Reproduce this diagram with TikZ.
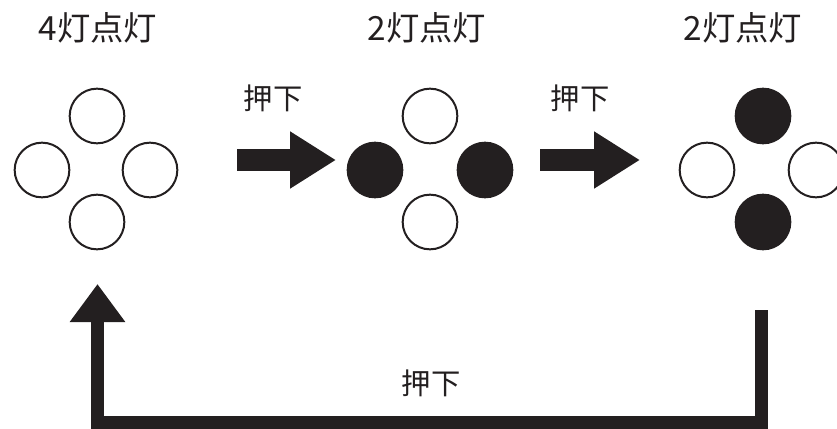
\documentclass[tikz,border=0pt]{standalone}
\usepackage{fontspec}
\newfontfamily\cjk{Noto Sans CJK JP}
\usetikzlibrary{arrows.meta}
\definecolor{inkblack}{HTML}{231F20}

\tikzset{
	lamp/.style={circle, draw=inkblack, line width=1.5pt, inner sep=0pt, minimum size=41pt},
	lampon/.style={lamp, fill=inkblack},
	lampoff/.style={lamp, fill=white},
	titletext/.style={text=inkblack, font=\cjk\fontsize{25}{30}\selectfont},
	presstext/.style={text=inkblack, font=\cjk\fontsize{22}{26}\selectfont},
	blockarrow/.style={draw=inkblack, line width=16.5pt, -{Triangle[length=34.5pt, width=40.5pt]}, inkblack},
	returnarrow/.style={draw=inkblack, line width=9.75pt, -{Triangle[length=28.5pt, width=39.75pt]}, inkblack}
}

\begin{document}
\begin{tikzpicture}[x=0.75pt,y=0.75pt,yscale=-1]
	\useasboundingbox (0,0) rectangle (837,428);

	% Titles
	\node [titletext] (title1) at (98,28) {4灯点灯};
	\node [titletext] (title2) at (427,28) {2灯点灯};
	\node [titletext] (title3) at (743,28) {2灯点灯};

	% Lamps: all four on
	\node [lampoff] (l1top) at (97,116) {};
	\node [lampoff] (l1left) at (42,170) {};
	\node [lampoff] (l1right) at (150,170) {};
	\node [lampoff] (l1bot) at (97,222) {};

	% Lamps: left and right
	\node [lampoff] (l2top) at (430,116) {};
	\node [lampon] (l2left) at (375,170) {};
	\node [lampon] (l2right) at (485,170) {};
	\node [lampoff] (l2bot) at (430,222) {};

	% Lamps: top and bottom
	\node [lampon] (l3top) at (763,116) {};
	\node [lampoff] (l3left) at (707,170) {};
	\node [lampoff] (l3right) at (816,170) {};
	\node [lampon] (l3bot) at (763,222) {};

	% Press arrows
	\coordinate (a1from) at (237,160);
	\coordinate (a1to) at (336,160);
	\draw [blockarrow] (a1from) -- (a1to);
	\node [presstext] (press1) at (273,98) {押下};

	\coordinate (a2from) at (540,160);
	\coordinate (a2to) at (640,160);
	\draw [blockarrow] (a2from) -- (a2to);
	\node [presstext] (press2) at (580,98) {押下};

	% Return arrow
	\coordinate (backfrom) at (761,310);
	\coordinate (backcorner) at (97.5,422);
	\coordinate (backto) at (97.5,284);
	\draw [returnarrow] (backfrom) |- (backcorner) -- (backto);
	\node [presstext] (press3) at (431,383) {押下};
\end{tikzpicture}
\end{document}
